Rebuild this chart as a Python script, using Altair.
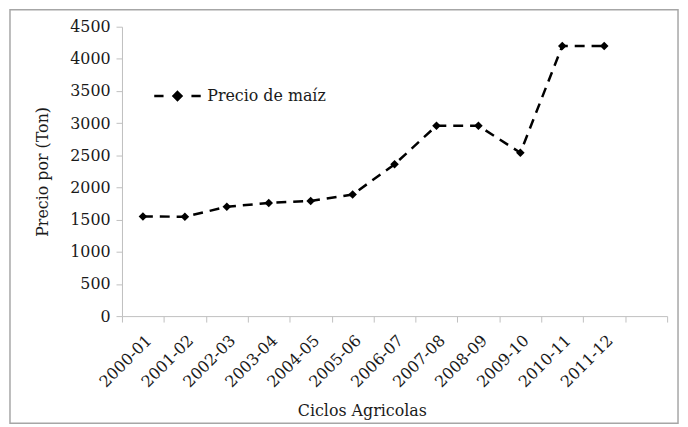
import altair as alt
import pandas as pd

ciclos = ["2000-01", "2001-02", "2002-03", "2003-04", "2004-05", "2005-06",
          "2006-07", "2007-08", "2008-09", "2009-10", "2010-11", "2011-12"]
precios = [1550, 1545, 1700, 1760, 1790, 1890, 2360, 2960, 2960, 2540, 4200, 4200]
serie = "Precio de maíz"
y_ticks = [0, 500, 1000, 1500, 2000, 2500, 3000, 3500, 4000, 4500]
x_domain = ciclos + [" "]

df = pd.DataFrame({"ciclo": ciclos, "precio": precios, "serie": [serie] * len(ciclos)})

FONT = "DejaVu Serif"
FS = 16
AXIS_GRAY = "#bfbfbf"
TEXT = "#1a1a1a"
legend_path = "M-1,0H-0.6M0,-0.17L0.17,0L0,0.17L-0.17,0ZM0.6,0H1"

x_enc = alt.X(
    "ciclo:N", sort=None,
    scale=alt.Scale(type="band", domain=x_domain, paddingInner=0, paddingOuter=0),
    axis=alt.Axis(title="Ciclos Agricolas", labelAngle=-45, tickBand="extent", grid=False,
                  domainColor=AXIS_GRAY, tickColor=AXIS_GRAY, tickSize=6, labelPadding=10,
                  labelFont=FONT, labelFontSize=FS, labelColor=TEXT,
                  titleFont=FONT, titleFontSize=FS, titleFontWeight="normal", titleColor=TEXT,
                  titleX=242, titleY=87, titleBaseline="top"))

y_enc = alt.Y(
    "precio:Q",
    scale=alt.Scale(domain=[0, 4500], nice=False),
    axis=alt.Axis(title="Precio por (Ton)", values=y_ticks, format="d", grid=False,
                  domainColor=AXIS_GRAY, tickColor=AXIS_GRAY, tickSize=6, labelPadding=6,
                  labelFont=FONT, labelFontSize=FS, labelColor=TEXT,
                  titleFont=FONT, titleFontSize=FS, titleFontWeight="normal", titleColor=TEXT,
                  titleX=-80, titleY=146, titleBaseline="middle"))

color_enc = alt.Color(
    "serie:N", scale=alt.Scale(range=["black"]),
    legend=alt.Legend(title=None, orient="none", legendX=31, legendY=45,
                      symbolType=legend_path, symbolSize=2200, symbolStrokeWidth=2.5,
                      symbolFillColor="black", symbolStrokeColor="black",
                      labelFont=FONT, labelFontSize=FS, labelColor=TEXT, labelOffset=5))

line = alt.Chart(df).mark_line(
    interpolate="linear", strokeDash=[10, 7], strokeWidth=2.5,
    point=alt.OverlayMarkDef(shape="diamond", size=75, filled=True, color="black")
).encode(x=x_enc, y=y_enc, color=color_enc)

frame = alt.Chart(pd.DataFrame({"k": [0]})).mark_rect(
    fillOpacity=0, stroke="#a6a6a6", strokeWidth=1.5
).encode(x=alt.value(-113), x2=alt.value(561), y=alt.value(-17), y2=alt.value(400))

chart = alt.layer(frame, line).properties(
    width=550, height=292,
    autosize=alt.AutoSizeParams(type="none"),
    padding={"left": 115, "top": 17, "right": 13, "bottom": 108},
    background="white"
).configure_view(strokeWidth=0)

chart.save("out.html", embed_options={"renderer": "svg", "actions": False})
